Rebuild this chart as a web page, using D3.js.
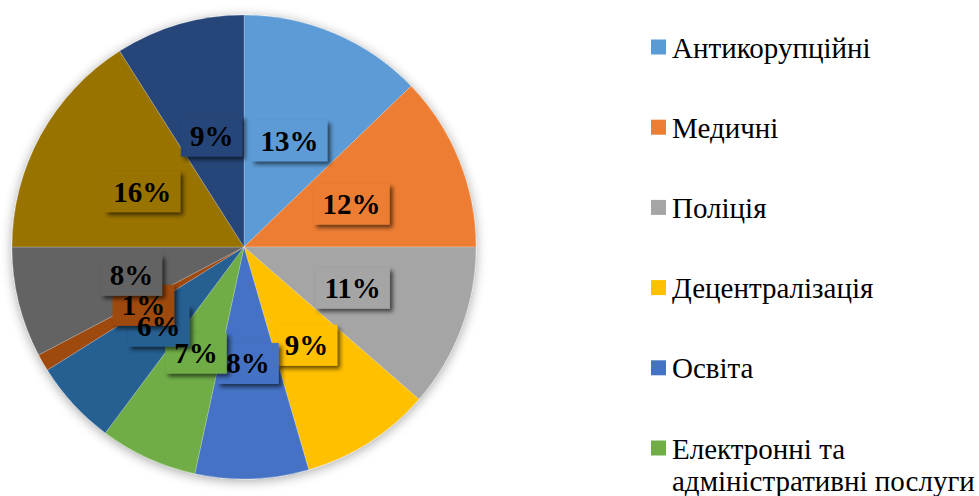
<!DOCTYPE html>
<html>
<head>
<meta charset="utf-8">
<script src="https://cdn.jsdelivr.net/npm/d3@7"></script>
<style>
  body { margin: 0; background: #fff; }
  svg { display: block; }
</style>
</head>
<body>
<svg width="979" height="496"></svg>
<script>
// slice shares (percent)
var values = [12.8, 12.2, 11.4, 9.1, 7.9, 6.8, 5.9, 1.2, 7.7, 16.0, 9.0];
var colors = ["#5B9BD5", "#ED7D31", "#A5A5A5", "#FFC000", "#4472C4", "#70AD47",
              "#255E91", "#9E480E", "#636363", "#997300", "#264478"];
// only the legend entries that are visible in the picture
var legendNames = ["Антикорупційні", "Медичні", "Поліція", "Децентралізація", "Освіта",
                   ["Електронні та", "адміністративні послуги"]];

var svg = d3.select("svg"),
    width = +svg.attr("width"),
    height = +svg.attr("height");

var cx = 244, cy = 247, radius = 232;
var serif = "'Liberation Serif', 'Times New Roman', serif";

var defs = svg.append("defs");
var glow = defs.append("filter").attr("id", "pieShadow")
    .attr("x", "-20%").attr("y", "-20%").attr("width", "140%").attr("height", "140%");
glow.append("feGaussianBlur").attr("in", "SourceAlpha").attr("stdDeviation", 6).attr("result", "b");
glow.append("feOffset").attr("in", "b").attr("dx", 0).attr("dy", 2).attr("result", "o");
glow.append("feComponentTransfer").attr("in", "o").attr("result", "s")
  .append("feFuncA").attr("type", "linear").attr("slope", 0.35);
var m1 = glow.append("feMerge");
m1.append("feMergeNode").attr("in", "s");
m1.append("feMergeNode").attr("in", "SourceGraphic");

var boxShadow = defs.append("filter").attr("id", "boxShadow")
    .attr("x", "-20%").attr("y", "-30%").attr("width", "150%").attr("height", "170%");
boxShadow.append("feGaussianBlur").attr("in", "SourceAlpha").attr("stdDeviation", 2.2).attr("result", "b");
boxShadow.append("feOffset").attr("in", "b").attr("dx", 3).attr("dy", 3).attr("result", "o");
boxShadow.append("feComponentTransfer").attr("in", "o").attr("result", "s")
  .append("feFuncA").attr("type", "linear").attr("slope", 0.6);
var m2 = boxShadow.append("feMerge");
m2.append("feMergeNode").attr("in", "s");
m2.append("feMergeNode").attr("in", "SourceGraphic");

var pie = d3.pie().sort(null).value(function(d) { return d; });
var arcs = pie(values);

var arc = d3.arc().innerRadius(0).outerRadius(radius);
var labelArc = d3.arc().innerRadius(radius * 0.5).outerRadius(radius * 0.5);

var g = svg.append("g").attr("transform", "translate(" + cx + "," + cy + ")");

g.append("g").attr("filter", "url(#pieShadow)")
  .selectAll("path")
  .data(arcs)
  .enter().append("path")
    .attr("d", arc)
    .attr("fill", function(d, i) { return colors[i]; })
    .attr("stroke", "rgba(255,255,255,0.35)")
    .attr("stroke-width", 0.6);

// data labels: boxes first, texts on top of all boxes
var boxLayer = g.append("g");
var textLayer = g.append("g").style("font-family", serif);

var texts = textLayer.selectAll("text")
  .data(arcs)
  .enter().append("text")
    .attr("transform", function(d) {
      var c = labelArc.centroid(d);
      return "translate(" + c[0] + "," + c[1] + ")";
    })
    .attr("text-anchor", "middle")
    .attr("dy", "0.36em")
    .style("font-weight", "bold")
    .style("font-size", "29px")
    .attr("fill", "#000")
    .text(function(d) { return Math.round(d.value) + "%"; });

texts.each(function(d) {
  var c = labelArc.centroid(d);
  var w = this.getBBox().width + 18;
  boxLayer.append("rect")
      .attr("x", c[0] - w / 2)
      .attr("y", c[1] - 20)
      .attr("width", w)
      .attr("height", 41)
      .attr("fill", colors[d.index])
      .attr("filter", "url(#boxShadow)");
});

// legend
var legend = svg.append("g")
    .attr("transform", "translate(651,0)")
    .style("font-family", serif);
var item = legend.selectAll("g")
  .data(legendNames)
  .enter().append("g")
    .attr("transform", function(d, i) { return "translate(0," + (47 + i * 80.2) + ")"; });

item.append("rect")
    .attr("x", 0).attr("y", -7.5)
    .attr("width", 15).attr("height", 15)
    .attr("fill", function(d, i) { return colors[i]; });

item.append("text")
    .attr("x", 21)
    .attr("y", 10.5)
    .style("font-size", "29px")
    .attr("fill", "#000")
    .each(function(d) {
      var lines = Array.isArray(d) ? d : [d];
      var t = d3.select(this);
      lines.forEach(function(l, k) {
        t.append("tspan").attr("x", 21).attr("dy", k === 0 ? 0 : 32).text(l);
      });
    });
</script>
</body>
</html>
